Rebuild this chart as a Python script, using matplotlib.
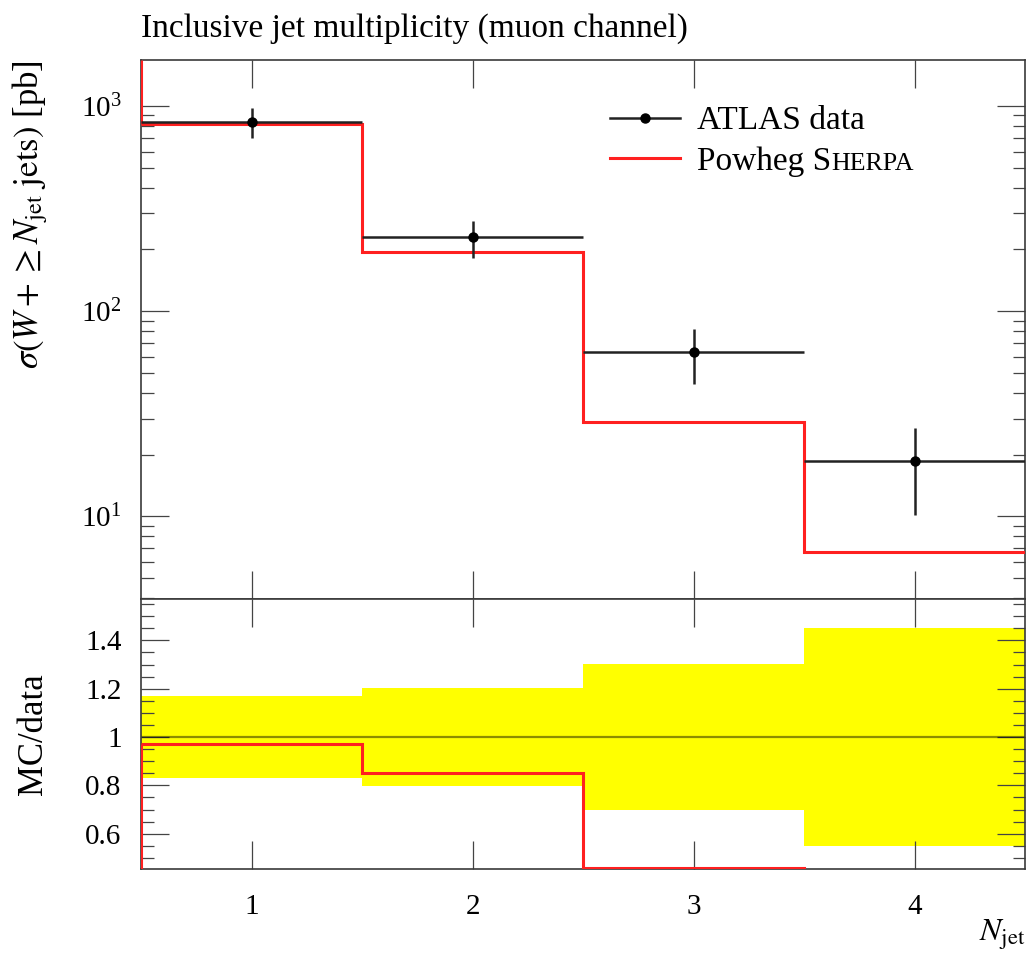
import numpy as np
import matplotlib
matplotlib.use('Agg')
import matplotlib.pyplot as plt
from matplotlib.lines import Line2D
from matplotlib.ticker import MultipleLocator, FixedLocator, LogLocator, NullFormatter

# W + jets cross sections per inclusive jet multiplicity (muon channel)
njet = [1, 2, 3, 4]
bin_edges = [0.5, 1.5, 2.5, 3.5, 4.5]
atlas_xs = [838, 229, 63.3, 18.6]
atlas_err = [142, 46.5, 19.0, 8.4]
powheg_xs = [815, 195, 29.0, 6.7]
xtick_labels = ['1', '2', '3', '4']

plt.rcParams['font.family'] = 'serif'
plt.rcParams['font.serif'] = ['Liberation Serif', 'DejaVu Serif']
plt.rcParams['mathtext.fontset'] = 'stix'

FS = 24
LFS = 25
TFS = 21
red = '#ff2020'
spine_col = '#3a3a3a'

fig = plt.figure(figsize=(10.28, 9.56), dpi=100)
ax = fig.add_axes([0.1372, 0.3734, 0.8600, 0.5638])
axr = fig.add_axes([0.1372, 0.0910, 0.8600, 0.2824], sharex=ax)

data = np.array(atlas_xs)
err = np.array(atlas_err)
mc = np.array(powheg_xs)
ratio = mc / data
rel = err / data

main_ylim = (3.96, 1675)
ratio_ylim = (0.454, 1.571)

# main panel
ax.set_yscale('log')
ax.stairs(mc, bin_edges, baseline=None, color=red, lw=2.2, zorder=3)
ax.vlines(bin_edges[0], mc[0], main_ylim[1], color=red, lw=2.2, zorder=3)
ax.errorbar(njet, data, yerr=err, xerr=0.5, fmt='o', color='black', ecolor='#222222',
            ms=6.5, elinewidth=1.8, capsize=0, zorder=4)
ax.set_ylim(*main_ylim)
ax.set_xlim(bin_edges[0], bin_edges[-1])

# ratio panel
axr.bar(njet, 2 * rel, bottom=1 - rel, width=1.0, color='#ffff00', edgecolor='none', zorder=1)
axr.axhline(1.0, color='black', alpha=0.45, lw=1.6, zorder=2)
axr.stairs(ratio, bin_edges, baseline=None, color=red, lw=2.2, zorder=3)
axr.vlines(bin_edges[0], ratio_ylim[0], ratio[0], color=red, lw=2.2, zorder=3)
axr.set_ylim(*ratio_ylim)

for a in (ax, axr):
    for s in a.spines.values():
        s.set_color(spine_col)
        s.set_linewidth(1.2)
    a.tick_params(which='both', direction='in', top=True, right=True, color='#444444',
                  labelsize=TFS, pad=14)
    a.tick_params(which='major', length=20, width=0.9)
    a.tick_params(which='minor', length=9, width=0.9)

ax.xaxis.set_major_locator(FixedLocator(njet))
ax.xaxis.set_minor_locator(FixedLocator([]))
ax.tick_params(axis='x', labelbottom=False)
ax.yaxis.set_major_locator(LogLocator(base=10, numticks=10))
ax.yaxis.set_minor_locator(LogLocator(base=10, subs=np.arange(2, 10), numticks=20))
ax.yaxis.set_minor_formatter(NullFormatter())

axr.set_xticks(njet)
axr.set_xticklabels(xtick_labels)
axr.yaxis.set_minor_locator(MultipleLocator(0.05))
axr.set_yticks([0.6, 0.8, 1.0, 1.2, 1.4])
axr.set_yticklabels(['0.6', '0.8', '1', '1.2', '1.4'])
axr.tick_params(axis='x', pad=18)

ax.set_title('Inclusive jet multiplicity (muon channel)', loc='left', fontsize=FS, pad=17)
ax.set_ylabel(r'$\sigma(W + \geq N_{\mathrm{jet}}\ \mathrm{jets})$ [pb]', fontsize=LFS, loc='top')
ax.yaxis.set_label_coords(-0.103, 1.0)
axr.set_ylabel('MC/data', fontsize=LFS)
axr.yaxis.set_label_coords(-0.103, 0.5)
axr.set_xlabel(r'$N_{\mathrm{jet}}$', fontsize=23, loc='right', labelpad=-2)

# legend, "Sherpa" written in small caps
handles = [Line2D([], [], color='#222222', lw=1.8, marker='o', ms=6.5, mfc='black', mec='black'),
           Line2D([], [], color=red, lw=2.2)]
leg = ax.legend(handles, ['ATLAS data', 'Powheg S'], loc='upper left',
                bbox_to_anchor=(0.5305, 0.915), frameon=False, fontsize=FS,
                handlelength=2.1, handletextpad=0.5, labelspacing=0.3,
                borderpad=0, borderaxespad=0)
sherpa = leg.get_texts()[1]
ax.annotate('HERPA', xy=(1, 0), xycoords=sherpa, xytext=(0.5, 0.217 * FS),
            textcoords='offset points', fontsize=FS * 0.78, va='baseline', ha='left',
            zorder=10)

fig.canvas.draw()
fig.savefig('out.png', dpi=100)
